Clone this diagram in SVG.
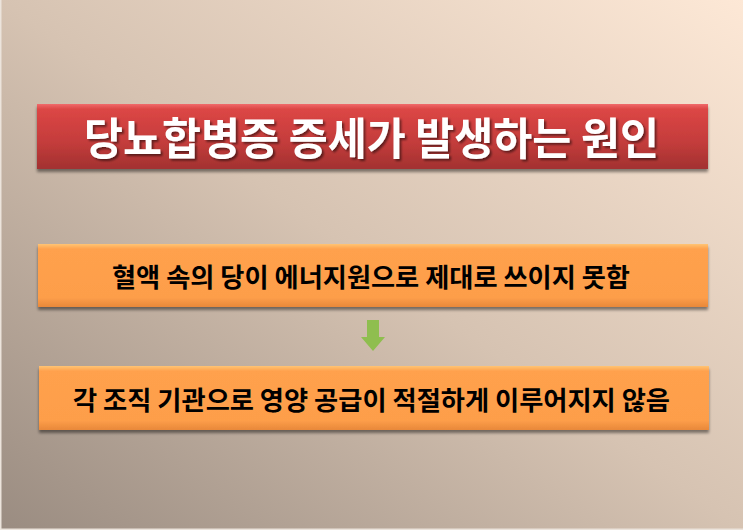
<svg xmlns="http://www.w3.org/2000/svg" width="743" height="530" viewBox="0 0 743 530">
  <defs>
    <linearGradient id="bg" x1="1" y1="0" x2="0" y2="1">
      <stop offset="0" stop-color="#fde8d6"/>
      <stop offset="0.5" stop-color="#d6c3b2"/>
      <stop offset="1" stop-color="#9a8c81"/>
    </linearGradient>
    <linearGradient id="red" x1="0" y1="0" x2="0" y2="1">
      <stop offset="0" stop-color="#f06a6a"/>
      <stop offset="0.08" stop-color="#dc4645"/>
      <stop offset="0.6" stop-color="#c33c3b"/>
      <stop offset="1" stop-color="#a23130"/>
    </linearGradient>
    <linearGradient id="orange" x1="0" y1="0" x2="0" y2="1">
      <stop offset="0" stop-color="#ffc473"/>
      <stop offset="0.08" stop-color="#ffa14d"/>
      <stop offset="0.85" stop-color="#fd9e4a"/>
      <stop offset="1" stop-color="#e8883a"/>
    </linearGradient>
    <filter id="shadow" x="-5%" y="-20%" width="110%" height="150%">
      <feGaussianBlur in="SourceAlpha" stdDeviation="1.5"/>
      <feOffset dx="0" dy="2.5" result="b"/>
      <feComponentTransfer><feFuncA type="linear" slope="0.45"/></feComponentTransfer>
      <feMerge><feMergeNode/><feMergeNode in="SourceGraphic"/></feMerge>
    </filter>
    <filter id="tshadow" x="-5%" y="-20%" width="110%" height="150%">
      <feOffset in="SourceAlpha" dx="1.5" dy="1.5"/>
      <feGaussianBlur stdDeviation="0.8"/>
      <feComponentTransfer><feFuncA type="linear" slope="0.5"/></feComponentTransfer>
      <feMerge><feMergeNode/><feMergeNode in="SourceGraphic"/></feMerge>
    </filter>
  </defs>
  <style>
    .t { font-family: "Noto Sans CJK KR", "Noto Sans CJK SC", sans-serif; font-weight: 700; text-anchor: middle; dominant-baseline: central; }
    .title { fill: #ffffff; font-size: 44px; }
    .body { fill: #000000; font-size: 26px; }
  </style>
  <rect x="0" y="0" width="743" height="530" fill="url(#bg)"/>
  <rect x="0" y="0" width="1.5" height="530" fill="#ece4dc"/>
  <rect x="0" y="528.5" width="743" height="1.5" fill="#ece4dc"/>
  <g id="title">
    <rect x="37" y="104" width="671" height="65" fill="url(#red)" filter="url(#shadow)"/>
    <text class="t title" x="371.5" y="136" textLength="575" lengthAdjust="spacingAndGlyphs" filter="url(#tshadow)">당뇨합병증 증세가 발생하는 원인</text>
  </g>
  <g id="cause1">
    <rect x="38" y="244" width="670" height="63" fill="url(#orange)" filter="url(#shadow)"/>
    <text class="t body" x="371" y="275" textLength="518" lengthAdjust="spacingAndGlyphs">혈액 속의 당이 에너지원으로 제대로 쓰이지 못함</text>
  </g>
  <g id="connectors">
    <polygon points="367,320 379,320 379,337 385,337 373,351 361,337 367,337" fill="#8fbe4f"/>
  </g>
  <g id="cause2">
    <rect x="39" y="366" width="670" height="64" fill="url(#orange)" filter="url(#shadow)"/>
    <text class="t body" x="371.5" y="398" textLength="597" lengthAdjust="spacingAndGlyphs">각 조직 기관으로 영양 공급이 적절하게 이루어지지 않음</text>
  </g>
</svg>
